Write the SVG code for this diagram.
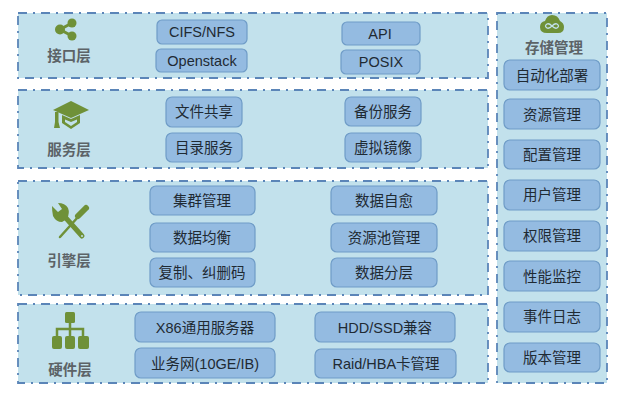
<svg xmlns="http://www.w3.org/2000/svg" width="630" height="400" viewBox="0 0 630 400">
<style>
text{font-family:"Liberation Sans","Noto Sans CJK SC",sans-serif;text-anchor:middle}
.p{fill:#c2e1ec;stroke:#5b85b8;stroke-width:1.8;stroke-dasharray:9 6 2 6}
.b{fill:#94bbe1;stroke:#6f9cc7;stroke-width:1.2}
.t{font-size:14.5px;fill:#1f2a33}
.h{font-size:14.5px;font-weight:bold;fill:#5c6367}
.g{fill:#6f9138}
.l{fill:none;stroke:#6f9138;stroke-linecap:round}
</style>
<rect width="630" height="400" fill="#fff"/>
<g id="layer-interface">
<rect class="p" x="18" y="13" width="470" height="65"/>
<g class="g"><circle cx="72" cy="23" r="4.5"/><circle cx="60" cy="29.500" r="5"/><circle cx="72" cy="36" r="4.500"/></g>
<path class="l" d="M72 23L60 29.500L72 36" stroke-width="3"/>
<text class="h" x="69" y="61">接口层</text>
<rect class="b" x="157" y="20" width="90" height="24" rx="5"/><text class="t" x="202" y="37">CIFS/NFS</text>
<rect class="b" x="156" y="49" width="91" height="23" rx="5"/><text class="t" x="202" y="66">Openstack</text>
<rect class="b" x="342" y="22" width="78" height="23" rx="5"/><text class="t" x="380" y="39">API</text>
<rect class="b" x="341" y="50" width="79" height="24" rx="5"/><text class="t" x="381" y="67">POSIX</text>
</g>
<g id="layer-service">
<rect class="p" x="18" y="90" width="470" height="78"/>
<path class="g" d="M71 101L89 110L71 118L53 110Z"/>
<path class="g" d="M55 112H58.500V122L60 128H54L55 122Z"/>
<path class="g" d="M62 115L71 119L80 115V123L71 129L62 123Z"/>
<path d="M65 119.500L71 122L77 119.500V122L71 126L65 122Z" fill="#c2e1ec"/>
<text class="h" x="69" y="155">服务层</text>
<rect class="b" x="166" y="97" width="76" height="30" rx="6"/><text class="t" x="204" y="117">文件共享</text>
<rect class="b" x="166" y="133" width="76" height="29" rx="6"/><text class="t" x="204" y="153">目录服务</text>
<rect class="b" x="345" y="97" width="76" height="29" rx="6"/><text class="t" x="383" y="117">备份服务</text>
<rect class="b" x="345" y="133" width="76" height="29" rx="6"/><text class="t" x="383" y="153">虚拟镜像</text>
</g>
<g id="layer-engine">
<rect class="p" x="18" y="181" width="470" height="114"/>
<path class="l" d="M78 217L60 237" stroke-width="2.500"/>
<path class="l" d="M78 216L86 208" stroke-width="6"/>
<path class="l" d="M65 217L82 236" stroke-width="5"/>
<path class="g" d="M52 206L58 212L62 209L58 203Q65 203 68 208Q70 213 67 219L62 222Q56 222 53 216Q52 211 52 206Z"/>
<circle cx="82" cy="236" r="1" fill="#c2e1ec"/>
<text class="h" x="69" y="266">引擎层</text>
<rect class="b" x="150" y="186" width="105" height="29" rx="6"/><text class="t" x="202" y="206">集群管理</text>
<rect class="b" x="150" y="223" width="105" height="29" rx="6"/><text class="t" x="202" y="243">数据均衡</text>
<rect class="b" x="150" y="258" width="105" height="29" rx="6"/><text class="t" x="202" y="278">复制、纠删码</text>
<rect class="b" x="331" y="186" width="106" height="29" rx="6"/><text class="t" x="384" y="206">数据自愈</text>
<rect class="b" x="331" y="223" width="106" height="29" rx="6"/><text class="t" x="384" y="243">资源池管理</text>
<rect class="b" x="331" y="258" width="106" height="29" rx="6"/><text class="t" x="384" y="278">数据分层</text>
</g>
<g id="layer-hardware">
<rect class="p" x="18" y="304" width="470" height="79"/>
<rect class="g" x="65" y="312" width="10" height="11" rx="1.500"/>
<path d="M70 322V336M57 337V329H83V337" fill="none" stroke="#6f9138" stroke-width="2.500"/>
<rect class="g" x="52" y="336" width="10" height="13" rx="2"/><rect class="g" x="65" y="336" width="10" height="13" rx="2"/><rect class="g" x="78" y="336" width="11" height="13" rx="2"/>
<text class="h" x="70" y="375">硬件层</text>
<rect class="b" x="135" y="312" width="140" height="30" rx="6"/><text class="t" x="205" y="333">X86通用服务器</text>
<rect class="b" x="135" y="348" width="140" height="30" rx="6"/><text class="t" x="205" y="369">业务网(10GE/IB)</text>
<rect class="b" x="315" y="312" width="140" height="30" rx="6"/><text class="t" x="385" y="333">HDD/SSD兼容</text>
<rect class="b" x="315" y="349" width="141" height="29" rx="6"/><text class="t" x="386" y="369">Raid/HBA卡管理</text>
</g>
<g id="storage-management">
<rect class="p" x="497" y="13" width="110" height="370"/>
<path class="g" d="M547 33Q540 33 540 27Q540 22 545 21Q547 15 552 15Q558 15 560 21Q564 23 564 27Q564 33 558 33Z"/>
<path d="M552 26Q549 23 547 24Q544 26 547 28Q549 29 552 26Q555 23 557 24Q560 26 557 28Q555 29 552 26Z" fill="none" stroke="#c2e1ec" stroke-width="1.300"/>
<text class="h" x="554" y="53">存储管理</text>
<rect class="b" x="504" y="60" width="96" height="30" rx="6"/><text class="t" x="552" y="81">自动化部署</text>
<rect class="b" x="504" y="99" width="96" height="30" rx="6"/><text class="t" x="552" y="120">资源管理</text>
<rect class="b" x="504" y="140" width="96" height="29" rx="6"/><text class="t" x="552" y="160">配置管理</text>
<rect class="b" x="504" y="180" width="96" height="30" rx="6"/><text class="t" x="552" y="200">用户管理</text>
<rect class="b" x="504" y="221" width="96" height="30" rx="6"/><text class="t" x="552" y="241">权限管理</text>
<rect class="b" x="504" y="261" width="96" height="30" rx="6"/><text class="t" x="552" y="282">性能监控</text>
<rect class="b" x="504" y="302" width="96" height="30" rx="6"/><text class="t" x="552" y="322">事件日志</text>
<rect class="b" x="504" y="343" width="96" height="29" rx="6"/><text class="t" x="552" y="363">版本管理</text>
</g>
</svg>
